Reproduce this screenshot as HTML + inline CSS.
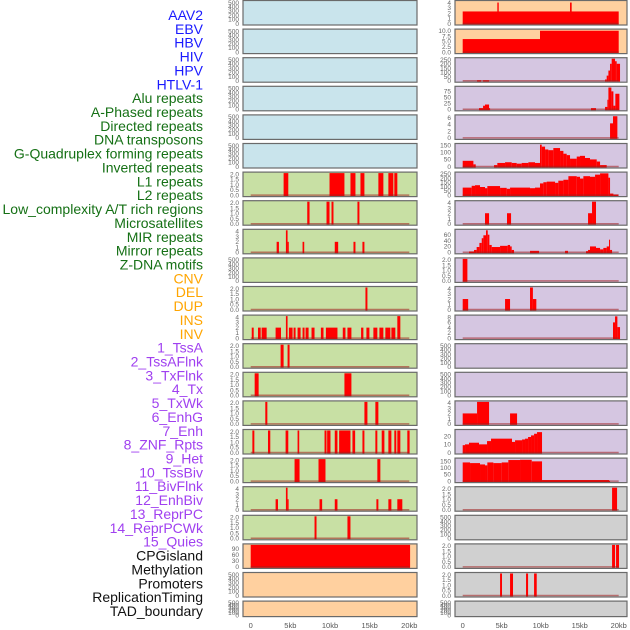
<!DOCTYPE html>
<html><head><meta charset="utf-8">
<style>
html,body{margin:0;padding:0;background:#fff;}
svg{display:block;font-family:"Liberation Sans",sans-serif;}
</style></head>
<body>
<svg id="chart" width="630" height="630" viewBox="0 0 630 630"></svg>
<script>
// ---------- data ----------
const trackLabels = ["AAV2","EBV","HBV","HIV","HPV","HTLV-1","Alu repeats","A-Phased repeats","Directed repeats","DNA transposons","G-Quadruplex forming repeats","Inverted repeats","L1 repeats","L2 repeats","Low_complexity A/T rich regions","Microsatellites","MIR repeats","Mirror repeats","Z-DNA motifs","CNV","DEL","DUP","INS","INV","1_TssA","2_TssAFlnk","3_TxFlnk","4_Tx","5_TxWk","6_EnhG","7_Enh","8_ZNF_Rpts","9_Het","10_TssBiv","11_BivFlnk","12_EnhBiv","13_ReprPC","14_ReprPCWk","15_Quies","CPGisland","Methylation","Promoters","ReplicationTiming","TAD_boundary"];
const labelColors = ["#1a1aff","#1a1aff","#1a1aff","#1a1aff","#1a1aff","#1a1aff","#157015","#157015","#157015","#157015","#157015","#157015","#157015","#157015","#157015","#157015","#157015","#157015","#157015","#ffa500","#ffa500","#ffa500","#ffa500","#ffa500","#a040f0","#a040f0","#a040f0","#a040f0","#a040f0","#a040f0","#a040f0","#a040f0","#a040f0","#a040f0","#a040f0","#a040f0","#a040f0","#a040f0","#a040f0","#111","#111","#111","#111","#111"];
const xTickValues = [0,5,10,15,20];
const xTickLabels = ["0","5kb","10kb","15kb","20kb"];

// bars: [startKb, endKb, value]
const barsAAV2 = [];
const barsEBV = [[0,20,2.3],[4.44,4.62,4],[13.76,13.97,4]];
const barsHBV = [];
const barsHIV = [[0,9.91,6.1],[9.91,20,10]];
const barsHPV = [];
const barsHTLV1 = [[1.84,2.35,5],[2.61,3.38,5],[18.25,18.46,15],[18.46,18.68,60],[18.68,18.89,120],[18.89,19.1,200],[19.1,19.53,260],[19.53,19.74,230],[19.74,20.17,200]];
const barsAlu = [];
const barsAPhased = [[2.09,2.61,5],[2.61,2.86,15],[2.86,3.38,20],[3.38,3.5,5],[16.45,17.09,5],[18.25,18.55,10],[18.55,18.68,40],[18.68,19.06,91],[19.06,19.32,75],[19.32,19.57,15],[19.57,20.09,65]];
const barsDirected = [];
const barsDNATransposons = [[18.89,19.27,4.3],[19.27,19.83,6.4]];
const barsGQuad = [];
const barsInverted = [[0,1.37,40],[1.37,1.67,15],[4.02,4.44,10],[4.44,5.43,25],[5.43,6.28,30],[6.28,6.92,25],[6.92,7.56,20],[7.56,8.42,25],[8.42,9.27,30],[9.27,9.91,25],[9.91,10.13,154],[10.13,10.56,140],[10.56,10.98,120],[10.98,11.62,115],[11.62,12.48,130],[12.48,12.91,110],[12.91,13.33,90],[13.33,13.76,80],[13.76,14.62,55],[14.62,15.04,70],[15.04,15.68,75],[15.68,16.32,60],[16.32,17.18,50],[17.18,17.61,35],[17.61,18.46,10]];
const barsL1 = [[4.15,4.74,2.1],[9.94,11.82,2.1],[12.58,13.21,2.1],[13.84,14.34,2.1],[16.1,16.73,2.1],[17.36,17.99,2.1],[18.11,18.49,2.1]];
const barsL2 = [[0,1.15,88],[1.15,1.58,109],[1.58,2.22,116],[2.22,2.86,95],[2.86,3.16,81],[3.16,4.79,106],[4.79,5.64,85],[5.64,6.07,74],[6.07,8.63,88],[8.63,9.27,81],[9.27,9.91,88],[9.91,10.34,137],[10.34,10.77,151],[10.77,11.84,158],[11.84,12.26,144],[12.26,12.91,169],[12.91,13.55,180],[13.55,14.62,222],[14.62,15.04,215],[15.04,15.47,194],[15.47,16.32,222],[16.32,16.97,215],[16.97,17.61,240],[17.61,18.68,255],[18.68,18.89,204],[18.89,19.32,18],[19.32,19.96,7]];
const barsLowComplexity = [[7.13,7.42,2.1],[9.56,9.94,2.1],[10.19,10.44,2.1],[13.46,13.71,2.1]];
const barsMicrosat = [[2.86,3.38,2],[5.68,6.2,2],[16.07,16.58,2],[16.58,17.09,4.2]];
const barsMIR = [[3.27,3.56,2],[4.44,4.65,4.2],[4.65,4.8,2],[6.54,6.75,2],[10.6,11.03,2],[12.96,13.21,2],[14.09,14.34,2]];
const barsMirror = [[0.81,1.45,3],[1.45,1.79,8],[1.79,2.14,18],[2.14,2.44,32],[2.44,2.65,48],[2.65,2.99,58],[2.99,3.21,75],[3.21,3.42,60],[3.42,3.72,25],[3.72,4.79,18],[4.79,5.77,22],[5.77,6.07,25],[6.07,6.28,20],[6.28,6.58,8],[8.63,9.79,5],[13.12,13.5,5],[15.81,16.07,4],[16.07,16.32,8],[16.32,17.09,20],[17.09,17.61,15],[17.61,18.03,10],[18.03,18.46,15],[18.46,18.76,20],[18.76,18.89,43],[18.89,19.15,8]];
const barsZDNA = [];
const barsCNV = [[0,0.6,2.1]];
const barsDEL = [[14.47,14.72,2.1]];
const barsDUP = [[0,0.7,2],[5.43,6.07,2],[8.63,9.0,4.2],[9.0,9.44,2]];
const barsINS = [[0.13,0.38,2],[0.92,1.26,2],[1.38,2.01,2],[3.14,3.82,2],[4.44,4.65,4.2],[4.82,5.28,2],[5.41,5.66,2],[5.91,6.29,2],[6.54,6.79,2],[6.92,7.3,2],[7.67,8.05,2],[8.85,9.18,2],[9.48,10.94,2],[11.61,11.95,2],[12.2,12.7,2],[13.92,14.21,2],[14.59,14.97,2],[15.47,15.97,2],[16.23,16.73,2],[16.98,17.61,2],[17.74,18.24,2],[18.49,18.87,4.2]];
const barsINV = [[19.27,19.53,6],[19.53,19.83,8.3],[19.83,20.17,4.2]];
const barsTssA = [[3.77,4.15,2.1],[4.65,4.9,2.1]];
const barsTssAFlnk = [];
const barsTxFlnk = [[0.5,1.0,2.1],[11.82,12.7,2.1]];
const barsTx = [];
const barsTxWk = [[1.84,2.1,2.1],[14.34,14.72,2.1],[15.72,16.1,2.1]];
const barsEnhG = [[0,1.84,2],[1.84,3.38,4.2],[6.07,6.97,2]];
const barsEnh = [[0.21,0.46,2.1],[2.18,2.47,2.1],[4.4,4.74,2.1],[5.91,6.12,2.1],[9.31,9.56,2.1],[9.64,10.06,2.1],[10.6,10.94,2.1],[11.15,12.58,2.1],[12.83,13.17,2.1],[14.09,14.34,2.1],[15.72,15.97,2.1],[16.52,16.86,2.1],[17.36,17.74,2.1],[18.11,18.36,2.1],[18.49,18.87,2.1],[19.75,20.04,2.1]];
const barsZNF = [[0,0.3,9],[0.3,0.81,10],[0.81,2.09,12],[2.09,3.12,10],[3.12,3.63,14],[3.63,6.32,17],[6.32,6.71,13],[6.71,7.61,15],[7.61,7.99,16],[7.99,8.38,17],[8.38,8.76,19],[8.76,9.15,21],[9.15,9.53,23],[9.53,10.17,25]];
const barsHet = [[5.53,6.16,2.1],[8.55,9.43,2.1],[15.97,16.35,2.1]];
const barsTssBiv = [[0,0.94,140],[0.94,2.22,135],[2.22,2.86,125],[2.86,3.16,118],[3.16,3.93,140],[3.93,5.0,135],[5.0,5.85,140],[5.85,7.35,158],[7.35,8.85,160],[8.85,10.17,148],[10.17,18.76,8],[18.76,18.89,3]];
const barsBivFlnk = [[3.14,3.44,2],[4.44,4.65,4.2],[4.65,4.78,2],[8.68,9.01,2],[10.6,10.94,2],[15.85,16.1,2],[17.36,17.74,2],[18.49,19.12,2]];
const barsEnhBiv = [[19.15,19.79,2.1]];
const barsReprPC = [[8.05,8.3,2.1],[12.2,12.58,2.1]];
const barsReprPCWk = [];
const barsQuies = [[0,20.1,115]];
const barsCPG = [[19.15,19.53,2.1],[19.66,20.04,2.1]];
const barsMethylation = [];
const barsPromoters = [[4.79,5.04,2.1],[6.07,6.45,2.1],[8.12,8.38,2.1],[9.15,9.49,2.1]];
const barsReplication = [];
const barsTAD = [];

const trackBars = [barsAAV2,barsEBV,barsHBV,barsHIV,barsHPV,barsHTLV1,barsAlu,barsAPhased,barsDirected,barsDNATransposons,barsGQuad,barsInverted,barsL1,barsL2,barsLowComplexity,barsMicrosat,barsMIR,barsMirror,barsZDNA,barsCNV,barsDEL,barsDUP,barsINS,barsINV,barsTssA,barsTssAFlnk,barsTxFlnk,barsTx,barsTxWk,barsEnhG,barsEnh,barsZNF,barsHet,barsTssBiv,barsBivFlnk,barsEnhBiv,barsReprPC,barsReprPCWk,barsQuies,barsCPG,barsMethylation,barsPromoters,barsReplication,barsTAD];

const T500=[0,100,200,300,400,500], T2=[0,0.5,1,1.5,2], T4=[0,1,2,3,4];
const trackTicks = [T500,T4,T500,[0,2.5,5,7.5,10],T500,[0,50,100,150,200,250],T500,[0,25,50,75],T500,[0,2,4,6],T500,[0,50,100,150],T2,[0,50,100,150,200,250],T2,T4,T4,[0,20,40,60],T500,T2,T2,T4,T4,[0,2,4,6,8],T2,T500,T2,T500,T2,T4,T2,[0,10,20],T2,[0,50,100,150],T4,T2,T2,T500,[0,30,60,90],T2,T500,T2,T500,T500];
const trackYMax = [525,4.2,525,10.3,525,260,525,92,525,6.5,525,155,2.1,258,2.1,4.2,4.2,75,525,2.1,2.1,4.2,4.2,8.4,2.1,525,2.1,525,2.1,4.2,2.1,27,2.1,165,4.2,2.1,2.1,525,110,2.1,525,2.1,525,525];
const leftBg = ["#c9e4ec","#c9e4ec","#c9e4ec","#c9e4ec","#c9e4ec","#c9e4ec","#c8e0a4","#c8e0a4","#c8e0a4","#c8e0a4","#c8e0a4","#c8e0a4","#c8e0a4","#c8e0a4","#c8e0a4","#c8e0a4","#c8e0a4","#c8e0a4","#c8e0a4","#ffd09f","#ffd09f","#ffd09f"];
const rightBg = ["#ffd09f","#ffd09f","#d5c6e1","#d5c6e1","#d5c6e1","#d5c6e1","#d5c6e1","#d5c6e1","#d5c6e1","#d5c6e1","#d5c6e1","#d5c6e1","#d5c6e1","#d5c6e1","#d5c6e1","#d5c6e1","#d5c6e1","#d0d0d0","#d0d0d0","#d0d0d0","#d0d0d0","#d0d0d0"];

// ---------- drawing ----------
const NS="http://www.w3.org/2000/svg";
const svg=document.getElementById('chart');
function mk(tag,attrs,parent){const e=document.createElementNS(NS,tag);for(const k in attrs)e.setAttribute(k,attrs[k]);(parent||svg).appendChild(e);return e;}
function fmt(v,ticks){const dec=ticks.some(t=>t%1!==0)||(ticks[ticks.length-1]<=2&&ticks.length===5);return dec?v.toFixed(1):String(v);}

for(let i=0;i<trackLabels.length;i++){
  const t=mk('text',{x:203,y:15+i*13.86+5,'text-anchor':'end','font-size':14,fill:labelColors[i]});
  
  
  t.textContent=trackLabels[i];
}

const geo=[{x0:243,w:174,zero:250.7,k:7.93,tickX:239},{x0:455,w:172,zero:462.7,k:7.8,tickX:451}];
for(let i=0;i<trackLabels.length;i++){
  const side=i%2, row=Math.floor(i/2), g=geo[side];
  const top=28.6*row+0.5, h=row===21?15.5:24.5;
  const yMax=trackYMax[i];
  const y0=top+h-1.5, yTop=top+1;
  const yS=v=>Math.max(yTop,y0-(v/yMax)*(y0-yTop));
  const xS=kb=>Math.max(g.x0+0.5,Math.min(g.x0+g.w-0.5,g.zero+kb*g.k));
  const grp=mk('g',{});
  
  
  mk('rect',{x:g.x0,y:top,width:g.w,height:h,fill:side?rightBg[row]:leftBg[row]},grp);
  const bars=trackBars[i];
  for(const b of bars){
    const r=mk('rect',{x:xS(b[0]),y:yS(b[2]),width:Math.max(1,xS(b[1])-xS(b[0])),height:y0-yS(b[2])+1,fill:'#ff0000'},grp);
    
    
  }
  if(bars.length){
    const ln=mk('line',{x1:xS(0),x2:xS(20),y1:y0,y2:y0,stroke:'rgba(160,30,30,0.55)','stroke-width':1.5},grp);
    
    
  }
  mk('rect',{x:g.x0,y:top,width:g.w,height:h,fill:'none',stroke:'#6a6a6a','stroke-width':1.2},grp);
  const ticks=trackTicks[i];
  for(const t of ticks){
    const yy=y0-(t/yMax)*(y0-yTop);
    const tx=mk('text',{x:g.tickX,y:yy+2.3,'text-anchor':'end','font-size':6.5,fill:'#666'},grp);
    
    
    tx.textContent=fmt(t,ticks);
  }
}
for(let s=0;s<2;s++){
  const g=geo[s];
  for(let j=0;j<xTickValues.length;j++){
    const tx=mk('text',{x:g.zero+xTickValues[j]*g.k,y:628,'text-anchor':'middle','font-size':7.5,fill:'#555'});
    
    
    tx.textContent=xTickLabels[j];
  }
}
</script>
</body></html>
